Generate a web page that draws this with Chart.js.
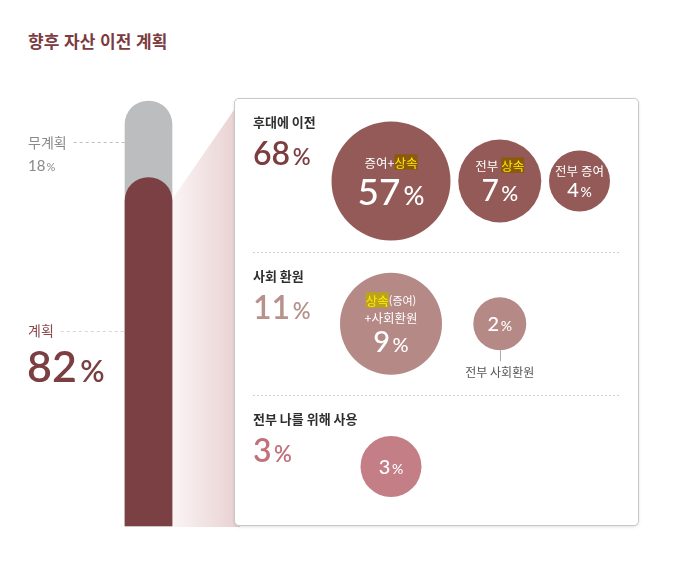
<!DOCTYPE html>
<html lang="ko">
<head>
<meta charset="utf-8">
<script src="https://cdn.jsdelivr.net/npm/chart.js@4.4.1/dist/chart.umd.min.js"></script>
<style>
  body { margin: 0; background: #fff; }
  #wrap { position: relative; width: 673px; height: 585px; overflow: hidden; }
  #title { position: absolute; left: 28px; top: 28px; font: bold 17px "Noto Sans CJK KR", sans-serif; color: #7b3b3f; }
  #barChart { position: absolute; left: 0; top: 0; z-index: 1; }
  #box { position: absolute; left: 234px; top: 98px; width: 405px; height: 428px; box-sizing: border-box; border: 1px solid #c9c9c9; border-radius: 5px; background: #fff; box-shadow: 0 1px 3px rgba(0,0,0,0.12); z-index: 2; }
  #bubbleChart { position: absolute; left: 234px; top: 98px; z-index: 3; }
</style>
</head>
<body>
<div id="wrap">
  <div id="title">향후 자산 이전 계획</div>
  <canvas id="barChart" width="240" height="585"></canvas>
  <div id="box"></div>
  <canvas id="bubbleChart" width="405" height="428"></canvas>
</div>
<script>
// 데이터
const planLabels = ['계획', '무계획'];
const planValues = [82, 18];

const groupLabels = ['후대에 이전', '사회 환원', '전부 나를 위해 사용'];
const groupTotals = [68, 11, 3];
// [..] = 강조, {..} = 작은 글씨, | = 줄바꿈
const itemLabels = [
  ['증여+[상속]', '전부 [상속]', '전부 증여'],
  ['[상속]{(증여)}|+사회환원', '전부 사회환원'],
  ['']
];
const itemValues = [
  [57, 7, 4],
  [9, 2],
  [3]
];

// 스타일
const planColors = ['#7b4043', '#bcbdbf'];
const groupColors = ['#935a58', '#b58a86', '#c47e86'];
const totalColors = ['#7d3c40', '#b8918d', '#c2707c'];
const highlightBg = ['#8c5a0c', '#bca31c', '#c47e86'];
const bubbleRadius = [[59.5, 41.5, 30.5], [51, 26.5], [30.5]];
const bubbleFont = [[37, 30, 20], [29, 20], [20]];
const columnSlots = [0, 1, 1.733];

const KR = '"Noto Sans CJK KR", sans-serif';
const NUM = 'Lato, "Open Sans", sans-serif';

function drawPercent(ctx, value, x, y, size, color, align, weight) {
  const w = weight || 600;
  const numFont = `${w} ${size}px ${NUM}`;
  const pctFont = `${w} ${Math.round(size * 0.7)}px ${NUM}`;
  ctx.font = numFont;
  const w1 = ctx.measureText(String(value)).width;
  ctx.font = pctFont;
  const w2 = ctx.measureText('%').width;
  const gap = size * 0.08;
  let left = x;
  if (align === 'center') left = x - (w1 + gap + w2) / 2;
  ctx.fillStyle = color;
  ctx.textAlign = 'left';
  ctx.textBaseline = 'alphabetic';
  ctx.font = numFont;
  ctx.fillText(String(value), left, y);
  ctx.font = pctFont;
  ctx.fillText('%', left + w1 + gap, y);
}

function parseLabel(str) {
  const parts = [];
  const re = /\[([^\]]+)\]|\{([^}]+)\}|([^\[{]+)/g;
  let m;
  while ((m = re.exec(str)) !== null) {
    if (m[1]) parts.push({ text: m[1], hl: true });
    else if (m[2]) parts.push({ text: m[2], small: true });
    else parts.push({ text: m[3] });
  }
  return parts;
}

function drawRichLine(ctx, str, cx, cy, size, hlBg) {
  const parts = parseLabel(str);
  let total = 0;
  parts.forEach(p => {
    ctx.font = `${p.small ? size - 1.5 : size}px ${KR}`;
    p.w = ctx.measureText(p.text).width;
    total += p.w;
  });
  let x = cx - total / 2;
  ctx.textAlign = 'left';
  ctx.textBaseline = 'middle';
  parts.forEach(p => {
    ctx.font = `${p.small ? size - 1.5 : size}px ${KR}`;
    if (p.hl) {
      ctx.fillStyle = hlBg;
      ctx.fillRect(x, cy - size * 0.62, p.w, size * 1.24);
      ctx.fillStyle = '#ffec00';
    } else {
      ctx.fillStyle = '#ffffff';
    }
    ctx.fillText(p.text, x, cy + 1);
    x += p.w;
  });
}

// 왼쪽 막대 + 라벨
const barPlugin = {
  id: 'barDeco',
  beforeDatasetsDraw(chart) {
    const ctx = chart.ctx;
    const bar = chart.getDatasetMeta(0).data[0];
    const right = bar.x + bar.width / 2;
    const bottom = chart.chartArea.bottom;
    const grad = ctx.createLinearGradient(right, 0, 240, 0);
    grad.addColorStop(0, '#fbf4f4');
    grad.addColorStop(1, '#e8d0d1');
    ctx.save();
    ctx.fillStyle = grad;
    ctx.beginPath();
    ctx.moveTo(right, bar.y + 22);
    ctx.lineTo(234, 110);
    ctx.lineTo(240, 100);
    ctx.lineTo(240, bottom + 1);
    ctx.lineTo(right, bottom + 1);
    ctx.closePath();
    ctx.fill();
    ctx.restore();
  },
  afterDatasetsDraw(chart) {
    const ctx = chart.ctx;
    const y = chart.scales.y;
    const bar = chart.getDatasetMeta(0).data[0];
    const barLeft = bar.x - bar.width / 2;
    const planned = planValues[0];
    const unplanned = planValues[1];
    const rows = [
      { label: planLabels[1], value: unplanned, py: y.getPixelForValue(planned + unplanned / 2) + 3, color: '#8a8a8a', dash: '#bdbdbd', size: 15 },
      { label: planLabels[0], value: planned, py: y.getPixelForValue(planned / 2) - 21, color: '#8a4a4c', dash: '#d6d6d6', size: 43 }
    ];
    ctx.save();
    rows.forEach(r => {
      ctx.font = `14px ${KR}`;
      ctx.fillStyle = r.color;
      ctx.textAlign = 'left';
      ctx.textBaseline = 'middle';
      ctx.fillText(r.label, 28, r.py);
      const w = ctx.measureText(r.label).width;
      ctx.strokeStyle = r.dash;
      ctx.lineWidth = 1;
      ctx.setLineDash([3, 3]);
      ctx.beginPath();
      ctx.moveTo(28 + w + 7, Math.round(r.py) + 0.5);
      ctx.lineTo(barLeft, Math.round(r.py) + 0.5);
      ctx.stroke();
      ctx.setLineDash([]);
      if (r.size < 20) {
        drawPercent(ctx, r.value, 28, r.py + 29, r.size, '#8a8a8a', 'left', 400);
      } else {
        drawPercent(ctx, r.value, 27, r.py + 51, r.size, '#7b3e41', 'left', 600);
      }
    });
    ctx.restore();
  }
};

new Chart(document.getElementById('barChart'), {
  type: 'bar',
  data: {
    labels: ['자산 이전 계획'],
    datasets: [
      { label: planLabels[0], data: [planValues[0]], backgroundColor: planColors[0], order: 1 },
      { label: planLabels[1], data: [planValues[0] + planValues[1]], backgroundColor: planColors[1], order: 2 }
    ]
  },
  options: {
    responsive: false,
    animation: false,
    events: [],
    layout: { padding: { left: 100, right: 43, top: 101, bottom: 59 } },
    datasets: { bar: { grouped: false, barThickness: 47, borderRadius: 24, clip: false } },
    plugins: { legend: { display: false }, tooltip: { enabled: false } },
    scales: {
      x: { display: false },
      y: { display: false, min: 0, max: 100 }
    }
  },
  plugins: [barPlugin]
});

// 오른쪽 버블
const bubblePlugin = {
  id: 'bubbleDeco',
  beforeDatasetsDraw(chart) {
    const ctx = chart.ctx;
    const y = chart.scales.y;
    const rowPx = groupLabels.map((g, i) => y.getPixelForValue(i));
    const tops = [0];
    for (let i = 0; i < rowPx.length - 1; i++) tops.push((rowPx[i] + rowPx[i + 1]) / 2);
    ctx.save();
    tops.forEach((t, i) => {
      if (i > 0) {
        ctx.strokeStyle = '#cfcfcf';
        ctx.lineWidth = 1;
        ctx.setLineDash([2, 2]);
        ctx.beginPath();
        ctx.moveTo(19, Math.round(t) + 0.5);
        ctx.lineTo(387, Math.round(t) + 0.5);
        ctx.stroke();
        ctx.setLineDash([]);
      }
      ctx.font = `bold 13px ${KR}`;
      ctx.fillStyle = '#2f2f2f';
      ctx.textAlign = 'left';
      ctx.textBaseline = 'middle';
      ctx.fillText(groupLabels[i], 19, t + 24);
      drawPercent(ctx, groupTotals[i], 19, t + 67, 32, totalColors[i], 'left', 600);
    });
    ctx.restore();
  },
  afterDatasetsDraw(chart) {
    const ctx = chart.ctx;
    ctx.save();
    chart.data.datasets.forEach((ds, gi) => {
      const meta = chart.getDatasetMeta(gi);
      meta.data.forEach((el, i) => {
        const r = bubbleRadius[gi][i];
        const f = bubbleFont[gi][i];
        const label = itemLabels[gi][i];
        const value = itemValues[gi][i];
        const cx = el.x;
        const cy = el.y;
        const capH = f * 0.72;
        if (!label) {
          drawPercent(ctx, value, cx, cy + capH / 2, f, '#ffffff', 'center', 500);
          return;
        }
        if (r < 28) {
          drawPercent(ctx, value, cx, cy + capH / 2, f, '#ffffff', 'center', 500);
          ctx.strokeStyle = '#aaaaaa';
          ctx.lineWidth = 1;
          ctx.beginPath();
          ctx.moveTo(Math.round(cx) + 0.5, cy + r);
          ctx.lineTo(Math.round(cx) + 0.5, cy + r + 11);
          ctx.stroke();
          ctx.font = `12px ${KR}`;
          ctx.fillStyle = '#555555';
          ctx.textAlign = 'center';
          ctx.textBaseline = 'middle';
          ctx.fillText(label, cx, cy + r + 22);
          return;
        }
        const lines = label.split('|');
        const lineH = 17;
        const gap = f * 0.2;
        const block = lines.length * lineH + gap + capH;
        const top = cy - block / 2 - 2;
        lines.forEach((ln, li) => {
          drawRichLine(ctx, ln, cx, top + lineH * li + lineH / 2, 12.5, highlightBg[gi]);
        });
        drawPercent(ctx, value, cx, top + block, f, '#ffffff', 'center', 500);
      });
    });
    ctx.restore();
  }
};

new Chart(document.getElementById('bubbleChart'), {
  type: 'bubble',
  data: {
    datasets: groupLabels.map((g, gi) => ({
      label: g,
      data: itemValues[gi].map((v, i) => ({ x: columnSlots[i], y: g, v: v })),
      backgroundColor: groupColors[gi],
      borderWidth: 0,
      radius: bubbleRadius[gi],
      clip: false
    }))
  },
  options: {
    responsive: false,
    animation: false,
    events: [],
    layout: { padding: { left: 157, right: 56.5, top: 83, bottom: 53 } },
    plugins: { legend: { display: false }, tooltip: { enabled: false } },
    scales: {
      x: { type: 'linear', display: false, min: 0, max: columnSlots[2] },
      y: { type: 'category', labels: groupLabels, display: false, offset: false }
    }
  },
  plugins: [bubblePlugin]
});
</script>
</body>
</html>
